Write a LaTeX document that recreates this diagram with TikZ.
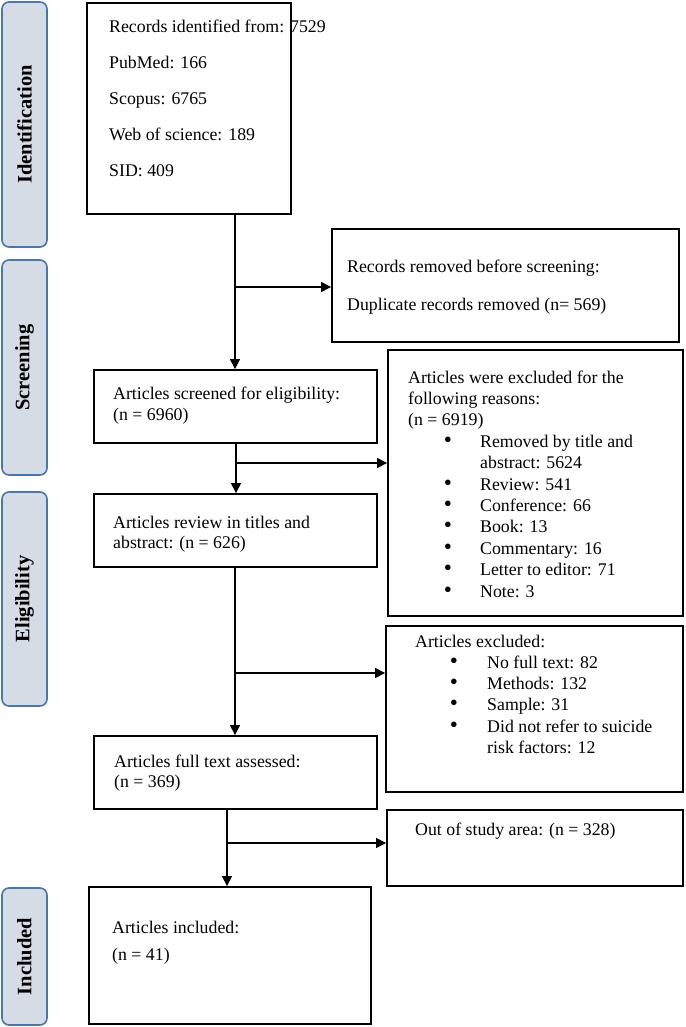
\documentclass[tikz,border=0pt]{standalone}
\usepackage{fontspec}
\setmainfont{Liberation Serif}
\usetikzlibrary{arrows.meta}
\definecolor{sidefill}{HTML}{D6DCE5}
\definecolor{sideline}{HTML}{4A76A8}
\newcommand{\bigbul}{\scalebox{1.3}{\textbullet}}
\begin{document}
\begin{tikzpicture}[x=1pt,y=-1pt,
  box/.style={draw, line width=1.8pt, inner sep=0pt},
  side/.style={draw=sideline, fill=sidefill, line width=1.6pt, rounded corners=7pt, rotate=90, minimum height=45pt, inner sep=0pt, font=\fontsize{20.5}{24}\selectfont\bfseries},
  txt/.style={anchor=base west, inner sep=0pt, font=\fontsize{17.8}{21.4}\selectfont},
  bul/.style={anchor=base, inner sep=0pt, font=\fontsize{17.8}{21.4}\selectfont},
  ln/.style={line width=1.1pt},
  arr/.style={line width=1.1pt, -{Triangle[length=10pt,width=10pt]}}]
\useasboundingbox (0,0) rectangle (685,1027);

% side bars
\node[side, minimum width=245pt] (s1) at (24.5,124.5) {Identification};
\node[side, minimum width=215pt] (s2) at (24.5,367.5) {Screening};
\node[side, minimum width=214pt] (s3) at (24.5,599) {Eligibility};
\node[side, minimum width=137pt] (s4) at (24.5,956.5) {Included};

% boxes
\node[box, minimum width=204pt, minimum height=211pt] (b1) at (189,108.5) {};
\node[box, minimum width=347pt, minimum height=113pt] (rem) at (505.5,285.5) {};
\node[box, minimum width=283pt, minimum height=73pt] (scr) at (235.5,406.5) {};
\node[box, minimum width=295pt, minimum height=266pt] (exc) at (535.5,483) {};
\node[box, minimum width=283pt, minimum height=73pt] (rev) at (235.5,530.5) {};
\node[box, minimum width=297pt, minimum height=166pt] (aex) at (534.5,709) {};
\node[box, minimum width=283pt, minimum height=73pt] (ful) at (235.5,772.5) {};
\node[box, minimum width=296pt, minimum height=76pt] (out) at (535,848) {};
\node[box, minimum width=282pt, minimum height=137pt] (inc) at (230,955.5) {};

% texts: identification
\node[txt] (t1) at (109,33) {Records identified from: 7529};
\node[txt] (t2) at (109,69) {PubMed: 166};
\node[txt] (t3) at (109,105) {Scopus: 6765};
\node[txt] (t4) at (109,141) {Web of science: 189};
\node[txt] (t5) at (109,177) {SID: 409};

% removed
\node[txt] (r1) at (347,272) {Records removed before screening:};
\node[txt] (r2) at (347,310) {Duplicate records removed (n= 569)};

% screened
\node[txt] (sc1) at (113,399) {Articles screened for eligibility:};
\node[txt] (sc2) at (113,420) {(n = 6960)};

% excluded
\node[txt] (e1) at (408,383) {Articles were excluded for the};
\node[txt] (e2) at (408,404.4) {following reasons:};
\node[txt] (e3) at (408,425.8) {(n = 6919)};
\node[bul] (eb1) at (448,447.2) {\bigbul};
\node[txt] (e4) at (480,447.2) {Removed by title and};
\node[txt] (e5) at (480,468.6) {abstract: 5624};
\node[bul] (eb2) at (448,490) {\bigbul};
\node[txt] (e6) at (480,490) {Review: 541};
\node[bul] (eb3) at (448,511.4) {\bigbul};
\node[txt] (e7) at (480,511.4) {Conference: 66};
\node[bul] (eb4) at (448,532.8) {\bigbul};
\node[txt] (e8) at (480,532.8) {Book: 13};
\node[bul] (eb5) at (448,554.2) {\bigbul};
\node[txt] (e9) at (480,554.2) {Commentary: 16};
\node[bul] (eb6) at (448,575.6) {\bigbul};
\node[txt] (e10) at (480,575.6) {Letter to editor: 71};
\node[bul] (eb7) at (448,597) {\bigbul};
\node[txt] (e11) at (480,597) {Note: 3};

% review
\node[txt] (v1) at (113,528) {Articles review in titles and};
\node[txt] (v2) at (113,548) {abstract: (n = 626)};

% articles excluded
\node[txt] (a1) at (415,647) {Articles excluded:};
\node[bul] (ab1) at (454,668.3) {\bigbul};
\node[txt] (a2) at (487,668.3) {No full text: 82};
\node[bul] (ab2) at (454,689.6) {\bigbul};
\node[txt] (a3) at (487,689.6) {Methods: 132};
\node[bul] (ab3) at (454,710.9) {\bigbul};
\node[txt] (a4) at (487,710.9) {Sample: 31};
\node[bul] (ab4) at (454,732.2) {\bigbul};
\node[txt] (a5) at (487,732.2) {Did not refer to suicide};
\node[txt] (a6) at (487,753.5) {risk factors: 12};

% full text
\node[txt] (f1) at (114,767) {Articles full text assessed:};
\node[txt] (f2) at (114,787) {(n = 369)};

% out of study
\node[txt] (o1) at (415,835) {Out of study area: (n = 328)};

% included
\node[txt] (i1) at (112,933) {Articles included:};
\node[txt] (i2) at (112,960) {(n = 41)};

% connectors
\coordinate (j1) at (235,287);
\coordinate (j2) at (236,463);
\coordinate (j3) at (235,673);
\coordinate (j4) at (227,843);

\draw[arr] (b1.south -| j1) -- (scr.north -| j1);
\draw[arr] (j1) -- (j1 -| rem.west);
\draw[arr] (scr.south -| j2) -- (rev.north -| j2);
\draw[arr] (j2) -- (j2 -| exc.west);
\draw[arr] (rev.south -| j3) -- (ful.north -| j3);
\draw[arr] (j3) -- (j3 -| aex.west);
\draw[arr] (ful.south -| j4) -- (inc.north -| j4);
\draw[arr] (j4) -- (j4 -| out.west);
\end{tikzpicture}
\end{document}
